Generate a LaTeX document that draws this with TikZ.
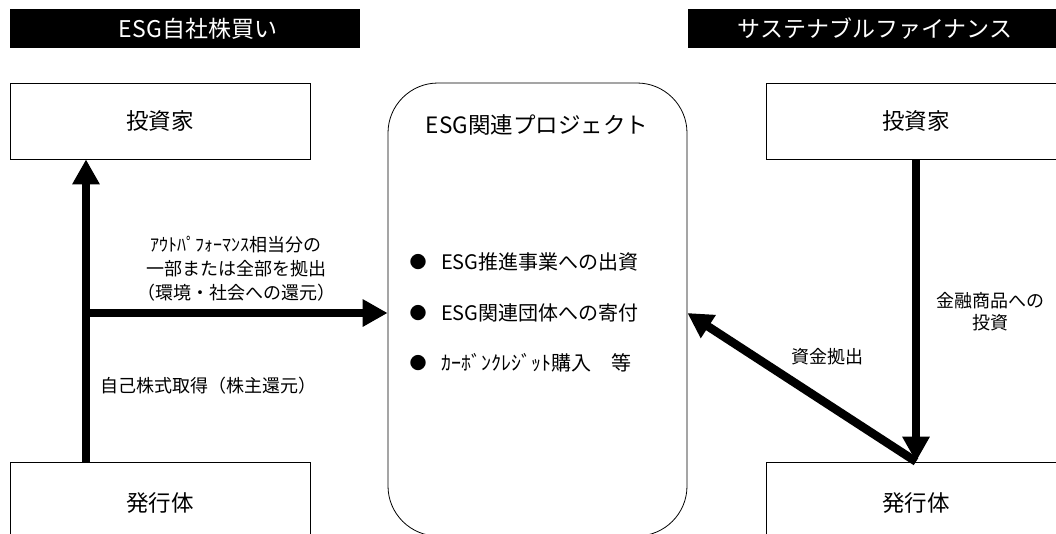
\documentclass[tikz,border=0pt]{standalone}
\usepackage{fontspec}
\setmainfont{Noto Sans CJK JP}
\usetikzlibrary{arrows.meta}
\begin{document}
\begin{tikzpicture}[x=1pt,y=-1pt,
  box/.style={draw,line width=0.8pt,minimum width=300pt,minimum height=76pt,inner sep=0pt,font=\fontsize{22.5}{26}\selectfont},
  bartext/.style={text=white,inner sep=0pt,font=\fontsize{23}{26}\selectfont},
  arr/.style={line width=8.5pt,-{Triangle[length=25pt,width=26pt]}},
  lbl/.style={font=\fontsize{18}{24}\selectfont,align=center,inner sep=0pt},
  item/.style={font=\fontsize{20}{24}\selectfont,inner sep=0pt,anchor=west},
  bul/.style={font=\fontsize{17}{20}\selectfont,inner sep=0pt},
]
\useasboundingbox (0,0) rectangle (1056,533);
\clip (0,0) rectangle (1056,533);
% title bars
\fill (10,9) rectangle (360,48);
\fill (688,9) rectangle (1060,48);
\node[bartext] (t1) at (198,29) {ESG自社株買い};
\node[bartext] (t2) at (875,29) {サステナブルファイナンス};
% boxes
\node[box] (inv1) at (160,121) {投資家};
\node[box,minimum height=82pt] (iss1) at (160,503) {発行体};
\node[box] (inv2) at (916,121) {投資家};
\node[box,minimum height=82pt] (iss2) at (916,503) {発行体};
\node[draw,line width=0.8pt,rounded corners=50pt,minimum width=299pt,minimum height=453pt,inner sep=0pt] (proj) at (537.5,309.5) {};
\node[inner sep=0pt,font=\fontsize{22.5}{26}\selectfont] (ptitle) at (537,125) {ESG関連プロジェクト};
% bullets
\node[bul] (d1) at (418,262) {●};
\node[bul] (d2) at (418,313) {●};
\node[bul] (d3) at (418,363) {●};
\node[item] (i1) at (441,262) {ESG推進事業への出資};
\node[item] (i2) at (441,313) {ESG関連団体への寄付};
\node[item] (i3) at (441,363) {ｶｰﾎﾞﾝｸﾚｼﾞｯﾄ購入　等};
% arrows
\coordinate (j) at (86,313);
\draw[arr] (iss1.north -| j) -- (inv1.south -| j);
\draw[arr] (j) -- (proj.west |- j);
\draw[arr] (inv2.south) -- (iss2.north);
\draw[arr] (iss2.north) -- (proj.east |- j);
% labels
\node[lbl] (l1) at (236,269) {ｱｳﾄﾊﾟﾌｫｰﾏﾝｽ相当分の\\一部または全部を拠出\\（環境・社会への還元）};
\node[lbl,anchor=west] (l2) at (100,386) {自己株式取得（株主還元）};
\node[lbl] (l3) at (827,357) {資金拠出};
\node[lbl,font=\fontsize{18}{22}\selectfont] (l4) at (990,312) {金融商品への\\投資};
\end{tikzpicture}
\end{document}
